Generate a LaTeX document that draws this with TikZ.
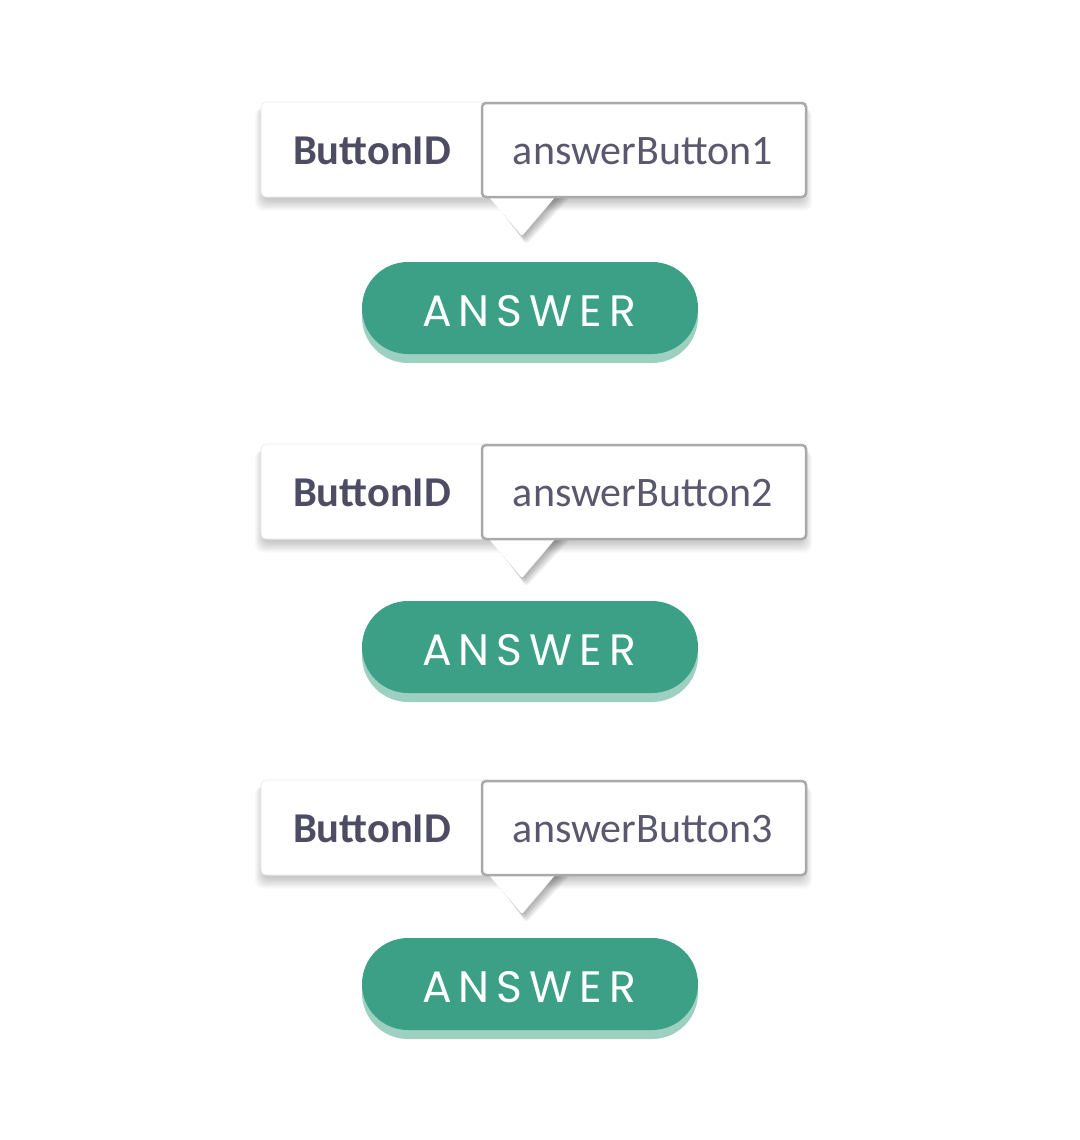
\documentclass[tikz,border=0pt]{standalone}
\usepackage{fontspec}
\setmainfont{Carlito}
\newfontfamily\btnfont{Poppins}[LetterSpace=16]
\usetikzlibrary{shadows}
\definecolor{idtext}{HTML}{4E4C62}
\definecolor{valtext}{HTML}{5A586E}
\definecolor{valframe}{HTML}{A9A9A9}
\definecolor{tipframe}{HTML}{EBEBEB}
\definecolor{btngreen}{HTML}{3BA085}
\definecolor{btnshade}{HTML}{9DD0C0}
\tikzset{every picture/.style={line width=0.75pt}}
\tikzset{
  idlabel/.style={anchor=base,text=idtext,font=\fontsize{42.5}{48}\bfseries},
  idvalue/.style={anchor=base,text=valtext,font=\fontsize{42}{48}\selectfont},
  answerbtn/.style={fill=btngreen,rounded corners=46pt,minimum width=336pt,minimum height=92pt,inner sep=0pt,
    drop shadow={shadow xshift=0pt,shadow yshift=-9pt,fill=btnshade,opacity=1}},
  answertext/.style={anchor=base,text=white,font=\btnfont\fontsize{44}{48}\selectfont},
}

\begin{document}
\begin{tikzpicture}[x=1pt,y=-1pt]
	\useasboundingbox[fill=white] (0,0) rectangle (1079,1140);
	\foreach \i/\oy/\by in {1/0/0,2/342/339,3/678/676}{
		\begin{scope}[yshift=-\oy pt]
			\foreach \k in {1,...,9} \fill[black,opacity=0.022,rounded corners=8] (264-\k,104+\k*0.5) rectangle (803+\k,199+\k*1.3); %影
			\foreach \k in {1,...,8} \fill[black,opacity=0.04,rounded corners=3] (489+\k*0.2,197) -- (523+\k*0.4,236+\k*1.1) -- (558+\k*1.6,197) -- cycle;
			\draw[tipframe,fill=white,rounded corners=5] (261,102) rectangle (806,197); %外枠
			\fill[white,rounded corners=1.5] (488,196) -- (522,236) -- (556,196) -- cycle; %吹き出し
			\draw[valframe,fill=white,line width=2.5pt,rounded corners=4] (482,103) rectangle (806,197); %値の枠
			\node[idlabel] (label\i) at (372,164) {ButtonID};
			\node[idvalue] (value\i) at (643,164) {answerButton\i};
		\end{scope}
		\begin{scope}[yshift=-\by pt]
			\node[answerbtn] (answer\i) at (530,308) {};
			\node[answertext] (answertext\i) at (529,326) {ANSWER};
		\end{scope}
	}
\end{tikzpicture}
\end{document}
